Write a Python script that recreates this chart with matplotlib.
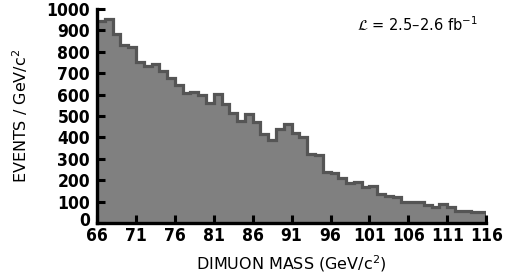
import numpy as np
import matplotlib.pyplot as plt
import matplotlib.transforms as mtransforms

# bin edges (1 GeV bins) and event counts
mass_edges = np.arange(66, 117)
events = [945, 955, 882, 832, 822, 751, 735, 741, 710, 679,
          645, 606, 613, 598, 559, 603, 555, 516, 478, 509,
          473, 416, 388, 439, 463, 419, 400, 322, 318, 237,
          233, 212, 185, 191, 167, 173, 137, 126, 120, 100,
          100, 100, 84, 73, 87, 73, 58, 58, 51, 51]
xticks = list(range(66, 117, 5))
yticks = list(range(0, 1001, 100))

fig = plt.figure(figsize=(5.08, 2.74), dpi=100)
ax = fig.add_axes([0.191, 0.186, 0.766, 0.781])

ax.stairs(events, mass_edges, fill=True, color='#808080', baseline=0)
ax.stairs(events, mass_edges, fill=False, color='#555555', lw=2.3, baseline=0)

ax.set_xlim(66, 116)
ax.set_ylim(0, 1000)
ax.set_xticks(xticks)
ax.set_yticks(yticks)

for s in ['top', 'right']:
    ax.spines[s].set_visible(False)
for s in ['left', 'bottom']:
    ax.spines[s].set_linewidth(2.4)

ax.tick_params(direction='in', length=6, width=2.2)
ax.tick_params(axis='x', pad=3)
ax.tick_params(axis='y', pad=5)
for lab in ax.get_xticklabels() + ax.get_yticklabels():
    lab.set_family('DejaVu Sans')
    lab.set_stretch('condensed')
    lab.set_weight('bold')
    lab.set_fontsize(12.5)

# the "0" on the y axis sits a little above the baseline in the reference
ylabs = ax.get_yticklabels()
ylabs[0].set_transform(ylabs[0].get_transform() +
                       mtransforms.ScaledTranslation(0, 3 / 72, fig.dpi_scale_trans))

ax.set_xlabel('DIMUON MASS (GeV/c$^2$)', fontsize=11.5, labelpad=6)
ax.set_ylabel('EVENTS / GeV/c$^2$', fontsize=11.5, labelpad=12)

ax.text(0.978, 0.93, r'$\mathcal{L}$ = 2.5–2.6 fb$^{-1}$', transform=ax.transAxes,
        ha='right', va='center', fontsize=10.5)

fig.savefig('out.png', dpi=100)
